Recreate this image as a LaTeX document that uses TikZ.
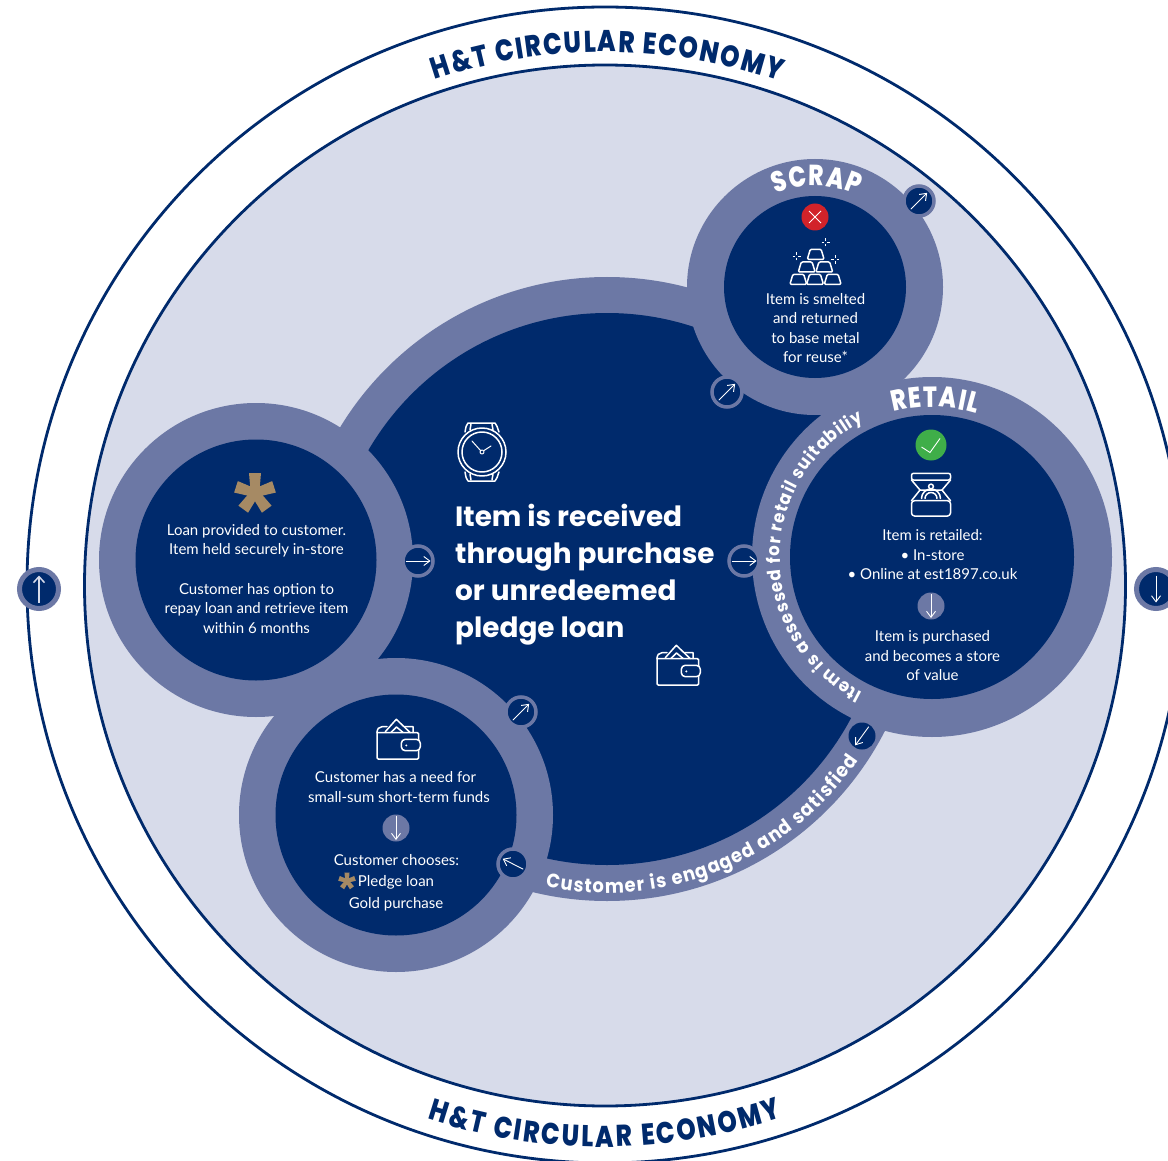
\documentclass[tikz,border=0pt]{standalone}
\usepackage{fontspec}
\usetikzlibrary{calc,arrows.meta,decorations.text}
\setmainfont{Lato}
\newfontfamily\headf{Poppins}[BoldFont=* Bold]
\newfontfamily\arcf{Poppins}[BoldFont=* ExtraBold,FakeStretch=0.82]
\newfontfamily\arcn{Poppins}[BoldFont=* ExtraBold,FakeStretch=0.8]
\newfontfamily\arcm{Poppins}[BoldFont=* Bold,FakeStretch=0.92]
\definecolor{navy}{HTML}{002A6C}
\definecolor{midblue}{HTML}{6C78A5}
\definecolor{pale}{HTML}{D7DBEA}
\definecolor{gold}{HTML}{A68A64}
\definecolor{okgreen}{HTML}{3FAE49}
\definecolor{nored}{HTML}{D2232A}
\tikzset{
  ringdisc/.style={circle,fill=midblue,draw=none,inner sep=0pt,minimum size=#1},
  coredisc/.style={circle,fill=navy,draw=none,inner sep=0pt,minimum size=#1},
  badgeS/.style={circle,fill=navy,draw=midblue,line width=3.5pt,inner sep=0pt,minimum size=30pt},
  badgeP/.style={circle,fill=navy,draw=none,inner sep=0pt,minimum size=27pt},
  badgeL/.style={circle,fill=navy,draw=midblue,line width=5pt,inner sep=0pt,minimum size=39pt},
  dotM/.style={circle,fill=midblue,draw=none,inner sep=0pt,minimum size=27pt},
  thinarrow/.style={draw=white,line width=0.9pt,-{Straight Barb[length=6pt,width=9pt,line width=0.9pt]}},
  bigarrow/.style={draw=pale,line width=1.5pt,-{Straight Barb[length=6pt,width=11pt,line width=1.5pt]}},
  bodytext/.style={text=white,align=center,inner sep=0pt,font=\fontsize{15}{19.5}\selectfont},
  headtext/.style={text=white,align=left,inner sep=0pt,font=\headf\bfseries\fontsize{27.9}{37}\selectfont},
  iconline/.style={draw=white,line width=1.5pt,line join=round,line cap=round},
  asterarm/.style={fill=gold,draw=none},
}
\newcommand\badgearrow[4][thinarrow]{%
  \draw[#1] ($(#2)+(#3+180:#4)$) -- ($(#2)+(#3:#4)$);}
\newcommand\goldbar[2]{% bottom-centre x,y of one gold bar
  \draw[iconline,rounded corners=1.2pt] (#1-8.4,#2) -- (#1-5.4,#2+10) -- (#1+5.4,#2+10) -- (#1+8.4,#2) -- cycle;}
\newcommand\sparkle[2]{%
  \draw[draw=white,line width=1pt] (#1-4.2,#2) -- (#1-1.5,#2) (#1+1.5,#2) -- (#1+4.2,#2)
     (#1,#2-4.2) -- (#1,#2-1.5) (#1,#2+1.5) -- (#1,#2+4.2);}
\tikzset{
 wallet/.pic={
  \draw[iconline,fill=navy] (-11.7,8.3) -- (-0.7,20.7) -- (13.3,7.3);
  \draw[iconline] (-6,7.6) -- (-0.5,13) -- (6,7.6);
  \draw[iconline] (-20,7.3) .. controls (-20,11) and (-18,13.3) .. (-15,13.3) -- (-10,13.3)
      (7.5,13.3) -- (16,13.3) -- (16,7.3);
  \draw[iconline,rounded corners=1.2pt] (-20,8) -- (-20,-19) -- (21.7,-19) -- (21.7,7.3) -- (-20,7.3);
  \draw[iconline,fill=navy,rounded corners=4pt] (23.3,0.7) -- (4.3,0.7) -- (4.3,-10.7) -- (23.3,-10.7) -- cycle;
  \fill[white] (9.3,-5.4) circle (1.1pt);
 },
 ringbox/.pic={
  \draw[iconline,rounded corners=2pt] (-19.5,15) -- (-19.5,21.7) -- (19.5,21.7) -- (19.5,15) -- cycle;
  \draw[iconline] (-19.5,15) -- (-11,5) -- (11,5) -- (19.5,15);
  \draw[iconline] (-11,5) -- (-19.5,-5.7) (11,5) -- (19.5,-5.7);
  \draw[iconline,rounded corners=3pt] (-19.5,-5.7) -- (-19.5,-21) -- (19.5,-21) -- (19.5,-5.7) -- cycle;
  \draw[iconline] (-9.5,-3.5) arc[start angle=180,end angle=0,radius=9.5];
  \draw[iconline] (-6,-3.5) arc[start angle=180,end angle=0,radius=6];
  \draw[iconline,fill=navy] (0,8.5) circle (2.4pt);
 },
 asterisk/.pic={
  \foreach \a in {18,90,162,234,306}{
    \fill[asterarm,rotate=\a] (-1,-4.2) -- (20,-6) -- (20,6) -- (-1,4.2) -- cycle;
  }
 },
}
\begin{document}
\begin{tikzpicture}[x=1pt,y=1pt]
\useasboundingbox (0,0) rectangle (1168,-1161);
\clip (0,0) rectangle (1168,-1161);
\fill[white] (0,0) rectangle (1168,-1161);
% outer rings
\node[circle,draw=navy,line width=2.8pt,fill=white,inner sep=0pt,minimum size=1156pt] (outerring) at (605,-585) {};
\node[circle,draw=navy,line width=2.8pt,fill=pale,inner sep=0pt,minimum size=1041pt] (innerring) at (605,-585.5) {};
% central circle
\node[ringdisc=624pt] (centralring) at (607,-589) {};
\node[coredisc=552pt] (centralcore) at (607,-589) {};
% satellite rings
\node[ringdisc=256pt] (scrapring) at (815,-287) {};
\node[ringdisc=360pt] (retailring) at (932,-557) {};
\node[ringdisc=314pt] (loanring) at (256,-560) {};
\node[ringdisc=314pt] (needring) at (396,-815) {};
\node[coredisc=182pt] (scrapcore) at (815,-287) {};
\node[coredisc=284pt] (retailcore) at (932,-557) {};
\node[coredisc=241pt] (loancore) at (256,-560) {};
\node[coredisc=241pt] (needcore) at (396,-815) {};
% curved labels
\path[decorate,decoration={text along path,text align={fit to path},
   text={|\arcf\bfseries\fontsize{30}{30}\selectfont\color{navy}|H{\&}T CIRCULAR ECONOMY}}]
   (605,-585) ++(108.6:533) arc[start angle=108.6,end angle=70.9,radius=533];
\path[decorate,decoration={text along path,text align={fit to path},
   text={|\arcf\bfseries\fontsize{30}{30}\selectfont\color{navy}|H{\&}T CIRCULAR ECONOMY}}]
   (603,-585) ++(251.8:562) arc[start angle=251.8,end angle=288.6,radius=562];
\path[decorate,decoration={text along path,text align={fit to path},
   text={|\arcn\bfseries\fontsize{29}{29}\selectfont\color{white}|SCRAP}}]
   (815,-287) ++(113:101) arc[start angle=113,end angle=65,radius=101];
\path[decorate,decoration={text along path,text align={fit to path},
   text={|\arcn\bfseries\fontsize{29}{29}\selectfont\color{white}|RETAIL}}]
   (932,-557) ++(105:150) arc[start angle=105,end angle=72.6,radius=150];
\path[decorate,decoration={text along path,text align={fit to path},
   text={|\arcm\bfseries\fontsize{18}{18}\selectfont\color{white}|Item is assessed for retail suitabiliy}}]
   (932,-557) ++(243:152) arc[start angle=243,end angle=116.5,radius=152];
\path[decorate,decoration={text along path,text align={fit to path},
   text={|\arcm\bfseries\fontsize{19.5}{19.5}\selectfont\color{white}|Customer is engaged and satisfied}}]
   (607,-589) ++(258.3:304) arc[start angle=258.3,end angle=325.7,radius=304];
% badges
\node[badgeS] (b1) at (919,-201) {};
\node[badgeS] (b2) at (727,-392) {};
\node[badgeS] (b3) at (744,-561) {};
\node[badgeS] (b4) at (418,-561) {};
\node[badgeS] (b5) at (521,-712) {};
\node[badgeS] (b6) at (513,-864) {};
\node[badgeP] (b7) at (862,-736) {};
\node[badgeL] (b8) at (39,-589) {};
\node[badgeL] (b9) at (1156,-589) {};
\node[dotM] (d1) at (931,-606) {};
\node[dotM] (d2) at (396,-828) {};
\badgearrow{b1}{45}{11.5}
\badgearrow{b2}{45}{11.5}
\badgearrow{b3}{0}{12.5}
\badgearrow{b4}{0}{12.5}
\badgearrow{b5}{45}{11.5}
\badgearrow{b6}{153}{11.5}
\badgearrow{b7}{234}{11.5}
\badgearrow[bigarrow]{b8}{90}{13.5}
\badgearrow[thinarrow]{b9}{270}{13.5}
\badgearrow{d1}{270}{12}
\badgearrow{d2}{270}{12}
% status marks
\node[circle,fill=nored,inner sep=0pt,minimum size=27pt] (nomark) at (815,-217) {};
\draw[white,line width=0.9pt] ($(nomark)+(-6,-6)$) -- ($(nomark)+(6,6)$) ($(nomark)+(-6,6)$) -- ($(nomark)+(6,-6)$);
\node[circle,fill=okgreen,inner sep=0pt,minimum size=31pt] (okmark) at (931,-445) {};
\draw[white,line width=0.9pt] ($(okmark)+(-9.5,-2)$) -- ($(okmark)+(-1,-7.5)$) -- ($(okmark)+(9,6.5)$);
% texts
\node[headtext,anchor=west] (headline) at (455,-574.5) {Item is received\\through purchase\\or unredeemed\\pledge loan};
\node[bodytext] (scraptext) at (815.5,-328) {Item is smelted\\and returned\\to base metal\\for reuse*};
\node[bodytext] (retailtext) at (932.5,-555) {Item is retailed:\\• In-store\\• Online at est1897.co.uk};
\node[bodytext] (storetext) at (932.5,-656) {Item is purchased\\and becomes a store\\of value};
\node[bodytext] (loantext) at (256.5,-541) {Loan provided to customer.\\Item held securely in-store};
\node[bodytext] (optiontext) at (256.5,-608.5) {Customer has option to\\repay loan and retrieve item\\within 6 months};
\node[bodytext] (needtext) at (395.5,-777) {Customer has a need for};
\node[bodytext] (smalltext) at (399,-797) {small-sum short-term funds};
\node[bodytext] (choosetext) at (396.5,-860) {Customer chooses:};
\node[bodytext] (pledgetext) at (396,-882.5) {Pledge loan};
\node[bodytext] (goldtext) at (396,-904) {Gold purchase};
% icons
\pic at (255,-493) {asterisk};
\pic[scale=0.42] at (347,-881) {asterisk};
\pic at (397,-740) {wallet};
\pic at (677,-666) {wallet};
\pic at (931,-495) {ringbox};
\goldbar{815.7}{-259.3}
\goldbar{806.7}{-272}
\goldbar{824.3}{-272}
\goldbar{798.3}{-284.3}
\goldbar{815}{-284.3}
\goldbar{832.7}{-284.3}
\sparkle{825.7}{-242.3}
\sparkle{796.7}{-256.3}
\sparkle{835}{-259.7}
% watch
\draw[iconline] (482,-452) circle (24pt);
\draw[iconline] (482,-452) circle (20pt);
\draw[iconline,line width=1pt] (482,-452) circle (2pt);
\draw[iconline,line width=1pt] (480.5,-450.5) -- (472,-441) (484,-450.5) -- (491,-446);
\draw[iconline] (465,-432) .. controls (466,-427) and (466,-425) .. (468,-423) -- (495,-423) .. controls (497,-425) and (497,-427) .. (499,-432);
\draw[iconline] (470,-430) -- (471,-424) (493,-430) -- (492,-424);
\draw[iconline] (465,-472) .. controls (466,-477) and (466,-479) .. (468,-481) -- (495,-481) .. controls (497,-479) and (497,-477) .. (499,-472);
\draw[iconline] (470,-474) -- (471,-480) (493,-474) -- (492,-480);
\end{tikzpicture}
\end{document}
